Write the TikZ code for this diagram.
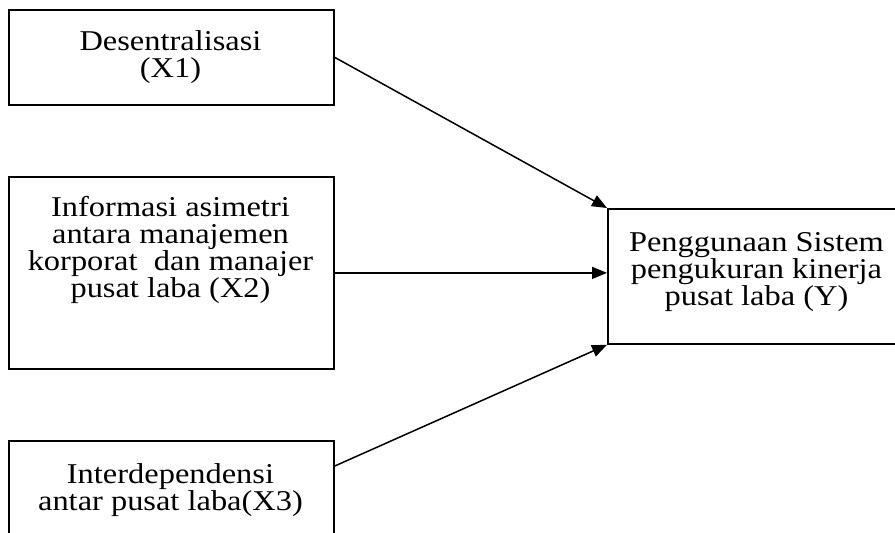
\documentclass[tikz,border=0pt]{standalone}
\usepackage{fontspec}
\setmainfont{Liberation Serif}[FakeStretch=1.13]
\usetikzlibrary{arrows.meta,calc}
\begin{document}
\begin{tikzpicture}[x=1pt,y=-1pt,
  box/.style={draw,line width=1.8pt,inner sep=0pt,anchor=north west},
  lbl/.style={align=center,inner sep=0pt,anchor=base,font=\fontsize{28.7}{27}\selectfont},
  conn/.style={line width=1.5pt,-{Triangle[length=15pt,width=12pt]}}]
\useasboundingbox (0,0) rectangle (895,533);
\clip (0,0) rectangle (895,533);
\node[box,minimum width=325pt,minimum height=95pt] (x1) at (8,9) {};
\node[box,minimum width=325pt,minimum height=192pt] (x2) at (8,176) {};
\node[box,minimum width=325pt,minimum height=140pt] (x3) at (8,440) {};
\node[box,minimum width=300pt,minimum height=135pt] (y) at (607,208) {};
\node[lbl] (t1) at (170.5,77.5) {Desentralisasi\\(X1)};
\node[lbl] (t2) at (170.5,297) {Informasi asimetri\hspace{16pt}\\antara manajemen\\korporat\ \ dan manajer\\pusat laba (X2)};
\node[lbl] (t3) at (170.5,510) {Interdependensi\hspace{26pt}\\antar pusat laba(X3)};
\node[lbl] (ty) at (756.5,305) {Penggunaan Sistem\\pengukuran kinerja\\pusat laba (Y)};
\coordinate (x3out) at ($(x3.north east)+(0,26)$);
\draw[conn] (x1.east) -- (y.north west);
\draw[conn] (x2.east) -- (x2.east -| y.west);
\draw[conn] (x3out) -- (y.south west);
\end{tikzpicture}
\end{document}
